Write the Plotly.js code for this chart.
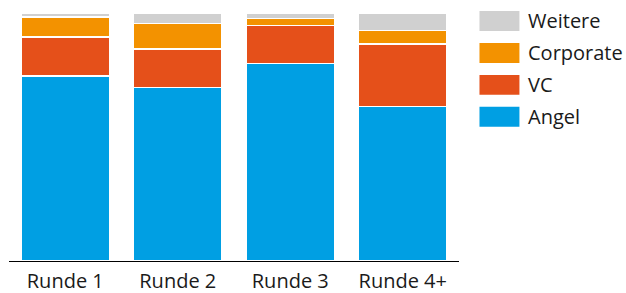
<!DOCTYPE html>
<html><head><meta charset="utf-8">
<script src="https://cdn.plot.ly/plotly-3.0.1.min.js"></script>
<style>html,body{margin:0;padding:0;background:#fff}#c{width:626px;height:293px}</style>
</head><body><div id="c"></div>
<script>
const categories = ["Runde 1", "Runde 2", "Runde 3", "Runde 4+"];
const angel = [74.6, 70.0, 79.6, 62.4];
const vc = [15.7, 15.5, 15.4, 25.1];
const corporate = [8.1, 10.2, 2.7, 5.5];
const weitere = [1.6, 4.3, 2.3, 7.0];
const seriesNames = ["Angel", "VC", "Corporate", "Weitere"];
const seriesColors = ["#009FE3", "#E5501A", "#F39200", "#D0D0D0"];
const seriesValues = [angel, vc, corporate, weitere];

const W = 626, H = 293;
const margin = {l: 9, r: 166.5, t: 13, b: 31.5};
const plotW = W - margin.l - margin.r, plotH = H - margin.t - margin.b;
const FS = 20;

const traces = seriesNames.map((n, i) => ({
  type: 'bar', name: n, x: categories, y: seriesValues[i],
  marker: {color: seriesColors[i], line: {color: '#ffffff', width: 1.5}},
  showlegend: false, hoverinfo: 'x+y+name'
}));

// custom legend (top to bottom: reverse order)
const shapes = [], annotations = [];
const legendOrder = [3, 2, 1, 0];
legendOrder.forEach((si, k) => {
  const cy = 21 + k * 32; // pixel center
  const x0 = (480 - margin.l) / plotW, x1 = (520 - margin.l) / plotW;
  const y0 = 1 - ((cy - 10) - margin.t) / plotH, y1 = 1 - ((cy + 10) - margin.t) / plotH;
  shapes.push({type: 'rect', xref: 'paper', yref: 'paper', x0: x0, x1: x1, y0: y1, y1: y0,
    fillcolor: seriesColors[si], line: {width: 0}});
  annotations.push({xref: 'paper', yref: 'paper', x: (527 - margin.l) / plotW,
    y: 1 - (cy - margin.t) / plotH, xanchor: 'left', yanchor: 'middle', showarrow: false,
    text: seriesNames[si], font: {family: 'Open Sans', size: FS, color: '#1a1a1a'}});
});

const layout = {
  width: W, height: H, margin: margin,
  paper_bgcolor: '#fff', plot_bgcolor: '#fff',
  barmode: 'stack', bargap: 0.21,
  font: {family: 'Open Sans', size: FS, color: '#1a1a1a'},
  xaxis: {showline: true, linecolor: '#000', linewidth: 1, ticks: 'outside', ticklen: 2,
    tickcolor: 'rgba(0,0,0,0)', showgrid: false,
    zeroline: false, tickfont: {family: 'Open Sans', size: FS, color: '#1a1a1a'}, fixedrange: true},
  yaxis: {range: [0, 100], visible: false, showgrid: false, zeroline: false, fixedrange: true},
  shapes: shapes, annotations: annotations, showlegend: false
};
Plotly.newPlot('c', traces, layout, {displayModeBar: false, staticPlot: true});
</script></body></html>
